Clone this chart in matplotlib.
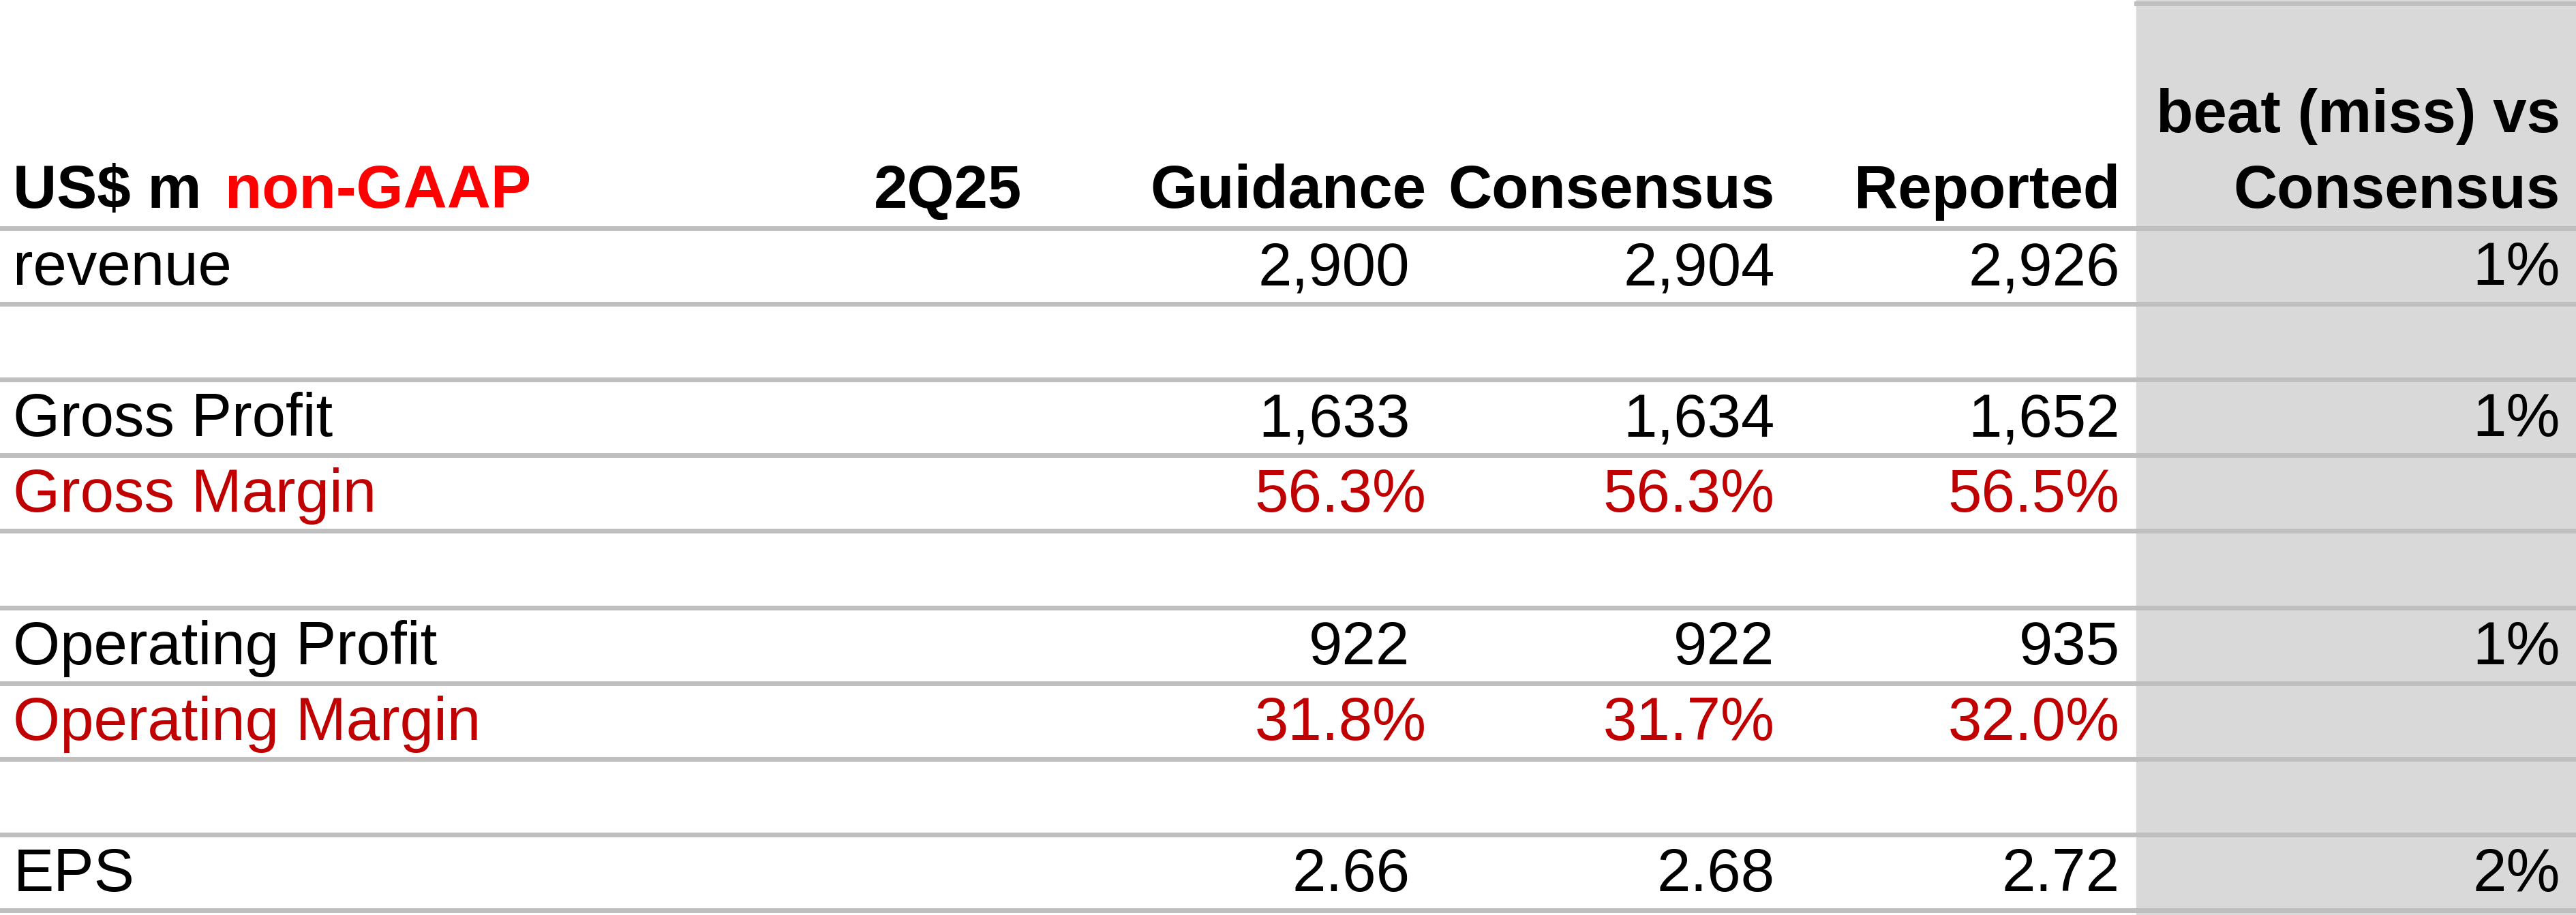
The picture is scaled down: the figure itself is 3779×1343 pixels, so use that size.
import matplotlib.pyplot as plt

plt.rcParams['font.family'] = ['Liberation Sans', 'DejaVu Sans']

# table contents
columns = ['2Q25', 'Guidance', 'Consensus', 'Reported', 'Consensus']
header_top = 'beat (miss) vs'
row_labels = ['revenue', '', 'Gross Profit', 'Gross Margin', '', 'Operating Profit', 'Operating Margin', '', 'EPS']
guidance = ['2,900', '', '1,633', '56.3%', '', '922', '31.8%', '', '2.66']
consensus = ['2,904', '', '1,634', '56.3%', '', '922', '31.7%', '', '2.68']
reported = ['2,926', '', '1,652', '56.5%', '', '935', '32.0%', '', '2.72']
beat = ['1%', '', '1%', '', '', '1%', '', '', '2%']
is_margin = [False, False, False, True, False, False, True, False, False]

S = 3780 / 1568  # layout measured on a 1568-wide view
W, H = 3780, 1343
fig = plt.figure(figsize=(W / 100, H / 100), dpi=100)
ax = fig.add_axes([0, 0, 1, 1])
ax.set_xlim(0, W)
ax.set_ylim(H, 0)
ax.axis('off')

fs = 64
line_c = '#BFBFBF'
red = '#C00000'

# grey column
ax.add_patch(plt.Rectangle((1300 * S, 0), W - 1300 * S, H, color='#D9D9D9', zorder=0))
ax.plot([1300 * S, W], [2 * S, 2 * S], color=line_c, lw=5)

# header
hy = 117 * S
ax.text(8 * S, hy, 'US$ m', fontsize=fs, fontweight='bold', va='center', ha='left')
ax.text(137 * S, hy, 'non-GAAP', fontsize=fs, fontweight='bold', va='center', ha='left', color='#FF0000')
col_x = [622, 868, 1080, 1290, 1558]
for c, x in zip(columns, col_x):
    ax.text(x * S, hy, c, fontsize=fs, fontweight='bold', va='center', ha='right')
ax.text(1558 * S, 71 * S, header_top, fontsize=fs, fontweight='bold', va='center', ha='right')

# row lines
line_y = [139, 185, 231, 277, 323, 370, 416, 462, 508, 554]
for y in line_y:
    ax.plot([0, W], [y * S, y * S], color=line_c, lw=5, zorder=1)

# rows
for i, lab in enumerate(row_labels):
    y = (line_y[i] + line_y[i + 1]) / 2 * S + 2 * S
    col = red if is_margin[i] else 'black'
    ax.text(8 * S, y, lab, fontsize=fs, va='center', ha='left', color=col)
    for vals, x in ((guidance, 858), (consensus, 1080), (reported, 1290), (beat, 1558)):
        if is_margin[i] and x == 858:
            x = 868
        ax.text(x * S, y, vals[i], fontsize=fs, va='center', ha='right', color=col)

fig.savefig('out.png', dpi=100)
